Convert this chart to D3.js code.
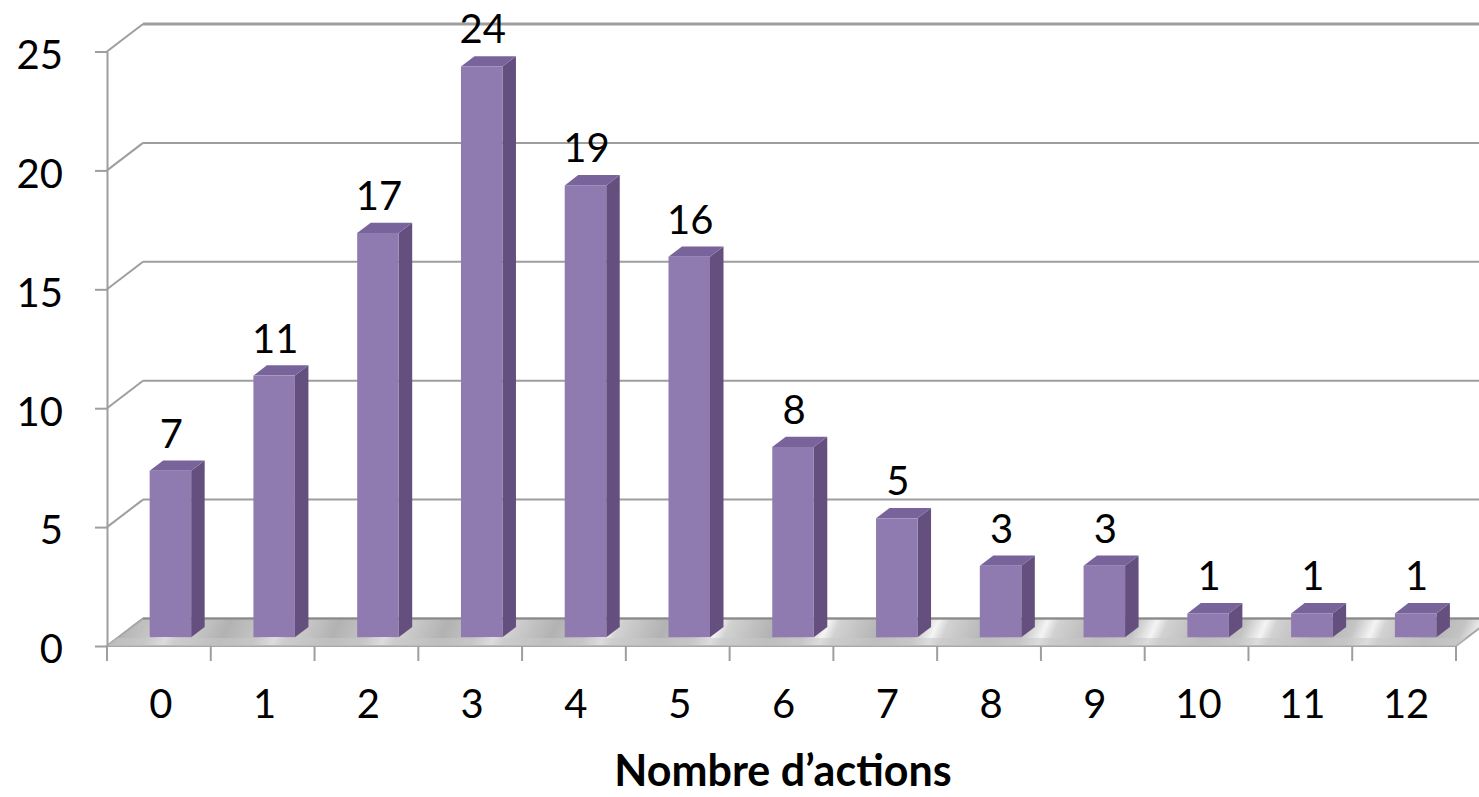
<!DOCTYPE html>
<html>
<head>
<meta charset="utf-8">
<script src="https://cdn.jsdelivr.net/npm/d3@7"></script>
<style>
  body { margin: 0; background: #fff; }
  text { font-family: Lato, "Open Sans", sans-serif; }
</style>
</head>
<body>
<svg id="chart"></svg>
<script>
// données
const categories = ["0", "1", "2", "3", "4", "5", "6", "7", "8", "9", "10", "11", "12"];
const valeurs = [7, 11, 17, 24, 19, 16, 8, 5, 3, 3, 1, 1, 1];
const yTicks = [0, 5, 10, 15, 20, 25];
const titreX = "Nombre d\u2019actions";

const width = 1479, height = 797;
const svg = d3.select("#chart").attr("width", width).attr("height", height);

// profondeur de la vue 3D
const depth = { x: 36, y: -27.5 };
const barFront = 0.32, barBack = 0.695;

const x = d3.scaleBand().domain(categories).range([107, 1456]);
const y = d3.scaleLinear().domain([0, 25]).range([646, 51.5]);

const defs = svg.append("defs");
const grad = defs.append("linearGradient")
  .attr("id", "sol")
  .attr("gradientUnits", "userSpaceOnUse")
  .attr("spreadMethod", "repeat")
  .attr("x1", 20).attr("y1", 600).attr("x2", 112).attr("y2", 640);
[["0%", "#b2b2b2"], ["30%", "#c4c4c4"], ["48%", "#f4f4f4"], ["58%", "#d2d2d2"], ["100%", "#b2b2b2"]]
  .forEach(s => grad.append("stop").attr("offset", s[0]).attr("stop-color", s[1]));

const grille = "#9e9e9e";
const x0 = x.range()[0], x1 = x.range()[1];

// lignes de grille (mur du fond + mur latéral)
yTicks.forEach(v => {
  const yf = y(v), yb = y(v) + depth.y;
  if (v > 0) {
    svg.append("line")
      .attr("x1", x0 + depth.x).attr("y1", yb).attr("x2", width + 5).attr("y2", yb)
      .attr("stroke", grille).attr("stroke-width", v === 25 ? 3 : 2);
  }
  svg.append("line")
    .attr("x1", x0).attr("y1", yf).attr("x2", x0 + depth.x).attr("y2", yb)
    .attr("stroke", grille).attr("stroke-width", 2);
});

// sol
svg.append("path")
  .attr("d", `M${x0},${y(0)} L${x1},${y(0)} L${x1 + depth.x},${y(0) + depth.y} L${x0 + depth.x},${y(0) + depth.y} Z`)
  .attr("fill", "url(#sol)")
  .attr("stroke", "#a8a8a8").attr("stroke-width", 2);
// bord arrière du sol
svg.append("line")
  .attr("x1", x0 + depth.x).attr("y1", y(0) + depth.y).attr("x2", width + 5).attr("y2", y(0) + depth.y)
  .attr("stroke", "#8a8a8a").attr("stroke-width", 2);
// tranche avant du sol
const ep = 8;
svg.append("path")
  .attr("d", `M${x0},${y(0)} L${x1},${y(0)} L${x1 + depth.x * ep / -depth.y},${y(0) - ep} L${x0 + depth.x * ep / -depth.y},${y(0) - ep} Z`)
  .attr("fill", "#c9c9c9").attr("opacity", 0.55);

// axe Y
const axeY = svg.append("g")
  .attr("transform", `translate(${x0},0)`)
  .call(d3.axisLeft(y).tickValues(yTicks).tickSize(12).tickSizeOuter(0).tickPadding(32));
axeY.select(".domain").attr("stroke", grille).attr("stroke-width", 2);
axeY.selectAll(".tick line").attr("stroke", grille).attr("stroke-width", 2);
axeY.selectAll(".tick text").attr("font-size", 40).attr("fill", "#000").attr("dy", "0.42em")
  .style("font-family", "Lato, sans-serif");

// graduations de l'axe X (aux limites des catégories)
const bornes = categories.map(c => x(c)).concat([x1]);
svg.selectAll(".tickx").data(bornes).enter().append("line")
  .attr("x1", d => d).attr("x2", d => d)
  .attr("y1", y(0)).attr("y2", y(0) + 15)
  .attr("stroke", grille).attr("stroke-width", 2);

// étiquettes X
const axeX = svg.append("g")
  .attr("transform", `translate(0,${y(0)})`)
  .call(d3.axisBottom(x).tickSize(0).tickPadding(44));
axeX.select(".domain").remove();
axeX.selectAll(".tick text").attr("font-size", 40).attr("fill", "#000")
  .attr("dx", 2).style("font-family", "Lato, sans-serif");

// barres 3D
const bw = x.bandwidth() * 0.4;
const fx = depth.x * barFront, fy = depth.y * barFront;
const dx = depth.x * (barBack - barFront), dy = depth.y * (barBack - barFront);

const barres = svg.selectAll(".barre").data(valeurs).enter().append("g");
barres.each(function (d, i) {
  const g = d3.select(this);
  const xl = x(categories[i]) + x.bandwidth() / 2 - bw / 2 + fx;
  const xr = xl + bw;
  const yb = y(0) + fy;
  const yt = y(d) + fy;
  // face latérale
  g.append("path")
    .attr("d", `M${xr},${yb} L${xr + dx},${yb + dy} L${xr + dx},${yt + dy} L${xr},${yt} Z`)
    .attr("fill", "#644f7e");
  // dessus
  g.append("path")
    .attr("d", `M${xl},${yt} L${xr},${yt} L${xr + dx},${yt + dy} L${xl + dx},${yt + dy} Z`)
    .attr("fill", "#78649a");
  // face avant
  g.append("rect")
    .attr("x", xl).attr("y", yt).attr("width", bw).attr("height", yb - yt)
    .attr("fill", "#8f7baf");
  // valeur
  g.append("text")
    .attr("x", xl + bw / 2 + 1).attr("y", yt - 23)
    .attr("text-anchor", "middle").attr("font-size", 40).attr("fill", "#000")
    .text(d);
});

// titre de l'axe
svg.append("text")
  .attr("x", 783).attr("y", 786)
  .attr("text-anchor", "middle")
  .attr("font-size", 43).attr("font-weight", "bold").attr("fill", "#000")
  .text(titreX);
</script>
</body>
</html>
